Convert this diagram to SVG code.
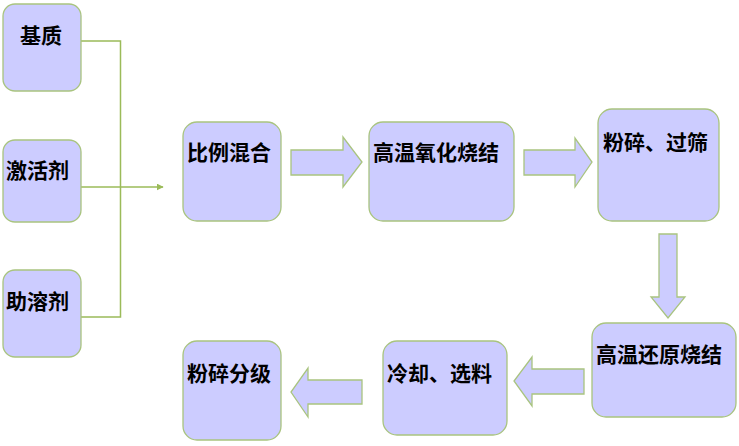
<svg xmlns="http://www.w3.org/2000/svg" width="739" height="446" viewBox="0 0 739 446">
<style>
.box{fill:#CCCCFF;stroke:#A9C47F;stroke-width:1.3}
.arr{fill:#CCCCFF;stroke:#A9C47F;stroke-width:1.3;stroke-linejoin:miter}
.ln{fill:none;stroke:#9BBB59;stroke-width:1.5}
text{font-family:"Noto Sans CJK SC","Noto Sans CJK JP",sans-serif;font-size:21px;font-weight:bold;fill:#000}
</style>
<defs>
<marker id="ah" viewBox="0 0 10 10" refX="9" refY="5" markerWidth="7" markerHeight="7" markerUnits="userSpaceOnUse" orient="auto">
<path d="M0,0 L10,5 L0,10 Z" fill="#9BBB59"/>
</marker>
</defs>
<rect width="739" height="446" fill="#fff"/>
<g id="connectors">
<polyline class="ln" points="81,41 120.5,41 120.5,317 81,317"/>
<line class="ln" x1="81" y1="187" x2="163" y2="187" marker-end="url(#ah)"/>
<polygon class="arr" points="291,150 343,150 343,137 362,162 343,187 343,175 291,175"/>
<polygon class="arr" points="524,150 575,150 575,138 592,162 575,187 575,175 524,175"/>
<polygon class="arr" points="659,234 677,234 677,297 685,297 668,318 651,297 659,297"/>
<polygon class="arr" points="584,369 532,369 532,357 514,381 532,406 532,394 584,394"/>
<polygon class="arr" points="362,380 308,380 308,368 291,392 308,417 308,404 362,404"/>
</g>
<g id="n1"><rect class="box" x="3" y="4" width="78" height="87" rx="12"/><text x="20" y="43">基质</text></g>
<g id="n2"><rect class="box" x="3" y="140" width="78" height="82" rx="12"/><text x="6" y="178">激活剂</text></g>
<g id="n3"><rect class="box" x="3" y="270" width="78" height="87" rx="12"/><text x="6" y="309">助溶剂</text></g>
<g id="n4"><rect class="box" x="183" y="122" width="98" height="99" rx="14"/><text x="187" y="160">比例混合</text></g>
<g id="n5"><rect class="box" x="369" y="122" width="145" height="99" rx="14"/><text x="373" y="160">高温氧化烧结</text></g>
<g id="n6"><rect class="box" x="598" y="109" width="121" height="112" rx="14"/><text x="603" y="150">粉碎、过筛</text></g>
<g id="n7"><rect class="box" x="592" y="323" width="144" height="94" rx="14"/><text x="596" y="362">高温还原烧结</text></g>
<g id="n8"><rect class="box" x="383" y="341" width="124" height="94" rx="14"/><text x="387" y="381">冷却、选料</text></g>
<g id="n9"><rect class="box" x="183" y="341" width="98" height="99" rx="14"/><text x="187" y="381">粉碎分级</text></g>
</svg>
